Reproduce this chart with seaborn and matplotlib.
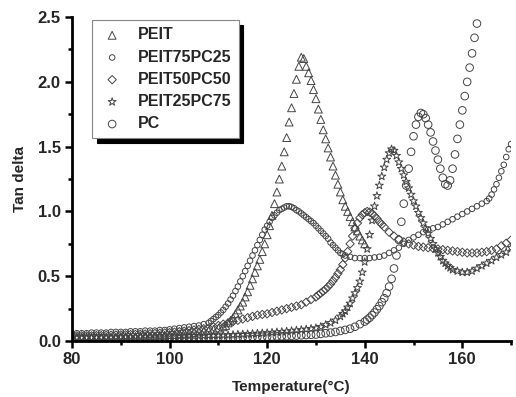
import pandas as pd
import seaborn as sns
import matplotlib.pyplot as plt
from matplotlib.patches import Shadow
from matplotlib.ticker import MultipleLocator

# (temperature, tan delta), one list per sample
PEIT = [(80, .03), (81, .03), (82, .03), (83, .03), (84, .03), (85, .03), (86, .03), (87, .03),
        (88, .03), (89, .03), (90, .035), (91, .035), (92, .035), (93, .035), (94, .04), (95, .04),
        (96, .04), (97, .04), (98, .045), (99, .045), (100, .05), (101, .05), (102, .055),
        (103, .06), (104, .06), (105, .065), (106, .07), (107, .075), (108, .08), (109, .09),
        (110, .1), (111, .11), (111.5, .12), (112, .14), (112.5, .16), (113, .18), (113.5, .21),
        (114, .24), (114.5, .27), (115, .3), (115.5, .34), (116, .38), (116.5, .43), (117, .48),
        (117.5, .53), (118, .58), (118.5, .63), (119, .69), (119.5, .75), (120, .82), (120.5, .89),
        (121, .97), (121.5, 1.06), (122, 1.15), (122.5, 1.25), (123, 1.35), (123.5, 1.46),
        (124, 1.57), (124.5, 1.69), (125, 1.8), (125.5, 1.91), (126, 2.02), (126.5, 2.12),
        (127, 2.19), (127.5, 2.18), (128, 2.12), (128.5, 2.07), (129, 2.01), (129.5, 1.94),
        (130, 1.87), (130.5, 1.79), (131, 1.71), (131.5, 1.63), (132, 1.56), (132.5, 1.49),
        (133, 1.42), (133.5, 1.35), (134, 1.28), (134.5, 1.21), (135, 1.15), (135.5, 1.09),
        (136, 1.04), (136.5, 1.0), (137, .96), (137.5, .92), (138, .88), (138.5, .85), (139, .81),
        (139.5, .78), (140, .75)]

PEIT75PC25 = [(80, .06), (81, .06), (82, .06), (83, .06), (84, .065), (85, .065), (86, .065),
              (87, .065), (88, .07), (89, .07), (90, .07), (91, .07), (92, .075), (93, .075),
              (94, .075), (95, .08), (96, .08), (97, .08), (98, .085), (99, .085), (100, .09),
              (101, .095), (102, .1), (103, .105), (104, .11), (105, .115), (106, .12), (107, .13),
              (108, .14), (108.5, .155), (109, .17), (109.5, .185), (110, .2), (110.5, .22),
              (111, .24), (111.5, .265), (112, .29), (112.5, .32), (113, .35), (113.5, .385),
              (114, .42), (114.5, .46), (115, .5), (115.5, .54), (116, .58), (116.5, .62),
              (117, .66), (117.5, .7), (118, .74), (118.5, .78), (119, .82), (119.5, .86),
              (120, .89), (120.5, .92), (121, .95), (121.5, .97), (122, .99), (122.5, 1.01),
              (123, 1.02), (123.5, 1.03), (124, 1.04), (124.5, 1.04), (125, 1.035), (125.5, 1.025),
              (126, 1.01), (126.5, 1.0), (127, .985), (127.5, .97), (128, .955), (128.5, .94),
              (129, .925), (129.5, .91), (130, .89), (130.5, .87), (131, .85), (131.5, .83),
              (132, .81), (132.5, .79), (133, .76), (133.5, .74), (134, .72), (134.5, .7),
              (135, .68), (135.5, .67), (136, .66), (137, .65), (138, .64), (139, .64), (140, .64),
              (141, .64), (142, .645), (143, .65), (144, .66), (145, .68), (146, .7), (147, .72),
              (148, .75), (149, .78), (150, .8), (151, .82), (152, .84), (153, .86), (154, .87),
              (155, .88), (156, .9), (157, .92), (158, .94), (159, .96), (160, .98), (161, 1.0),
              (162, 1.02), (163, 1.04), (164, 1.06), (165, 1.08), (165.5, 1.1), (166, 1.13),
              (166.5, 1.17), (167, 1.21), (167.5, 1.26), (168, 1.31), (168.5, 1.36), (169, 1.42),
              (169.5, 1.48), (170, 1.52)]

PEIT50PC50 = [(80, .04), (81, .04), (82, .04), (83, .04), (84, .04), (85, .042), (86, .042),
              (87, .044), (88, .045), (89, .046), (90, .047), (91, .048), (92, .05), (93, .051),
              (94, .052), (95, .054), (96, .056), (97, .058), (98, .06), (99, .062), (100, .065),
              (101, .068), (102, .072), (103, .076), (104, .08), (105, .085), (106, .09),
              (107, .095), (108, .1), (109, .11), (110, .12), (111, .13), (112, .14), (113, .15),
              (114, .16), (115, .17), (116, .18), (117, .19), (118, .2), (119, .205), (120, .21),
              (121, .22), (122, .23), (123, .24), (124, .25), (125, .26), (126, .27), (127, .28),
              (128, .3), (129, .32), (130, .34), (130.5, .355), (131, .37), (131.5, .385),
              (132, .4), (132.5, .42), (133, .44), (133.5, .465), (134, .49), (134.5, .52),
              (135, .55), (135.5, .59), (136, .64), (136.5, .69), (137, .75), (137.5, .81),
              (138, .87), (138.5, .91), (139, .95), (139.5, .975), (140, .99), (140.5, 1.0),
              (141, .995), (141.5, .985), (142, .965), (142.5, .945), (143, .92), (143.5, .9),
              (144, .88), (145, .84), (146, .81), (147, .785), (148, .765), (149, .75), (150, .74),
              (151, .73), (152, .725), (153, .72), (154, .715), (155, .71), (156, .705), (157, .7),
              (158, .695), (159, .69), (160, .685), (161, .68), (162, .68), (163, .68),
              (164, .685), (165, .69), (166, .7), (167, .71), (168, .735), (169, .755), (170, .78)]

PEIT25PC75 = [(80, .025), (81, .025), (82, .025), (83, .025), (84, .025), (85, .025), (86, .025),
              (87, .025), (88, .025), (89, .025), (90, .028), (91, .028), (92, .028), (93, .028),
              (94, .03), (95, .03), (96, .03), (97, .03), (98, .032), (99, .032), (100, .034),
              (101, .034), (102, .036), (103, .036), (104, .038), (105, .038), (106, .04),
              (107, .04), (108, .042), (109, .042), (110, .044), (111, .045), (112, .046),
              (113, .048), (114, .05), (115, .052), (116, .054), (117, .056), (118, .058),
              (119, .06), (120, .062), (121, .065), (122, .068), (123, .071), (124, .074),
              (125, .078), (126, .082), (127, .086), (128, .09), (129, .095), (130, .1), (131, .11),
              (132, .125), (133, .14), (134, .16), (135, .19), (135.5, .21), (136, .23),
              (136.5, .26), (137, .29), (137.5, .33), (138, .37), (138.5, .41), (139, .46),
              (139.5, .53), (140, .61), (140.5, .71), (141, .82), (141.5, .93), (142, 1.04),
              (142.5, 1.12), (143, 1.2), (143.5, 1.27), (144, 1.34), (144.5, 1.4), (145, 1.45),
              (145.5, 1.48), (146, 1.47), (146.5, 1.43), (147, 1.38), (147.5, 1.33), (148, 1.28),
              (148.5, 1.23), (149, 1.18), (149.5, 1.13), (150, 1.08), (150.5, 1.04), (151, .99),
              (151.5, .95), (152, .91), (152.5, .87), (153, .83), (153.5, .79), (154, .75),
              (154.5, .71), (155, .68), (155.5, .65), (156, .62), (156.5, .6), (157, .58),
              (157.5, .565), (158, .55), (159, .54), (160, .53), (161, .53), (162, .54), (163, .56),
              (164, .58), (165, .6), (166, .62), (167, .645), (168, .665), (169, .685), (170, .72)]

PC = [(80, .015), (81, .015), (82, .015), (83, .015), (84, .015), (85, .015), (86, .015),
      (87, .015), (88, .015), (89, .015), (90, .017), (91, .017), (92, .017), (93, .017),
      (94, .018), (95, .018), (96, .018), (97, .018), (98, .019), (99, .019), (100, .02),
      (101, .02), (102, .02), (103, .021), (104, .021), (105, .022), (106, .022), (107, .023),
      (108, .023), (109, .024), (110, .025), (111, .025), (112, .026), (113, .027), (114, .028),
      (115, .029), (116, .03), (117, .031), (118, .032), (119, .033), (120, .034), (121, .035),
      (122, .036), (123, .037), (124, .038), (125, .04), (126, .042), (127, .044), (128, .046),
      (129, .048), (130, .05), (131, .055), (132, .06), (133, .065), (134, .07), (135, .078),
      (136, .086), (137, .095), (138, .11), (139, .13), (140, .15), (140.5, .165), (141, .18),
      (141.5, .2), (142, .22), (142.5, .245), (143, .27), (143.5, .3), (144, .33), (144.5, .37),
      (145, .42), (145.5, .48), (146, .56), (146.5, .66), (147, .78), (147.5, .92), (148, 1.06),
      (148.5, 1.2), (149, 1.33), (149.5, 1.46), (150, 1.58), (150.5, 1.67), (151, 1.73),
      (151.5, 1.76), (152, 1.75), (152.5, 1.72), (153, 1.67), (153.5, 1.61), (154, 1.54),
      (154.5, 1.47), (155, 1.4), (155.5, 1.33), (156, 1.26), (156.5, 1.21), (157, 1.2),
      (157.5, 1.24), (158, 1.33), (158.5, 1.44), (159, 1.56), (159.5, 1.67), (160, 1.78),
      (160.5, 1.89), (161, 2.0), (161.5, 2.11), (162, 2.22), (162.5, 2.34), (163, 2.45)]

LABELS = ["PEIT", "PEIT75PC25", "PEIT50PC50", "PEIT25PC75", "PC"]
MARKERS = ["^", "o", "D", "*", "o"]
SIZES = [32, 16, 18, 36, 30]

sns.set_theme(style="white")
plt.rcParams["font.family"] = ["Liberation Sans", "DejaVu Sans"]
plt.rcParams["font.weight"] = "bold"
plt.rcParams["axes.labelweight"] = "bold"

fig = plt.figure(figsize=(5.16, 3.97), dpi=100)
ax = fig.add_axes([0.1395, 0.141, 0.851, 0.816])

edge = "#444444"
for pts, lab, mk, s in zip([PEIT, PEIT75PC25, PEIT50PC50, PEIT25PC75, PC], LABELS, MARKERS, SIZES):
    df = pd.DataFrame(pts, columns=["T", "tan"])
    sns.scatterplot(data=df, x="T", y="tan", marker=mk, s=s, facecolor="none",
                    edgecolor=edge, linewidth=0.7, label=lab, ax=ax, legend=False)

ax.set_xlim(80, 170)
ax.set_ylim(0, 2.5)
ax.xaxis.set_major_locator(MultipleLocator(20))
ax.xaxis.set_minor_locator(MultipleLocator(10))
ax.yaxis.set_major_locator(MultipleLocator(0.5))
ax.yaxis.set_minor_locator(MultipleLocator(0.25))
ax.yaxis.set_major_formatter(plt.FormatStrFormatter("%.1f"))
ax.tick_params(which="both", direction="out", width=1.8, color="black",
               bottom=True, left=True)
ax.tick_params(which="major", length=5, labelsize=12, pad=3)
ax.tick_params(which="minor", length=3)
for lbl in ax.get_xticklabels() + ax.get_yticklabels():
    lbl.set_fontweight("bold")
sns.despine(ax=ax)
for sp in ["left", "bottom"]:
    ax.spines[sp].set_linewidth(2)
    ax.spines[sp].set_color("black")
ax.set_xlabel("Temperature(°C)", fontsize=11, fontweight="bold", labelpad=9)
ax.set_ylabel("Tan delta", fontsize=11, fontweight="bold", labelpad=8)

handles, labels = ax.get_legend_handles_labels()
leg = ax.legend(handles, labels, loc="upper left", bbox_to_anchor=(0.046, 0.99),
                borderaxespad=0, frameon=True, fancybox=False,
                prop={"weight": "bold", "size": 11.5}, labelspacing=0.45,
                handletextpad=0.8, borderpad=0.45, handlelength=1.6)
leg.get_frame().set_edgecolor("#888888")
leg.get_frame().set_linewidth(0.8)
leg.get_frame().set_alpha(1)

fig.canvas.draw()
sh = Shadow(leg.legendPatch, 3.5, -3.5, color="black", alpha=1)
sh.set_zorder(4.9)
ax.add_artist(sh)

fig.savefig("out.png", dpi=100, facecolor="white")
